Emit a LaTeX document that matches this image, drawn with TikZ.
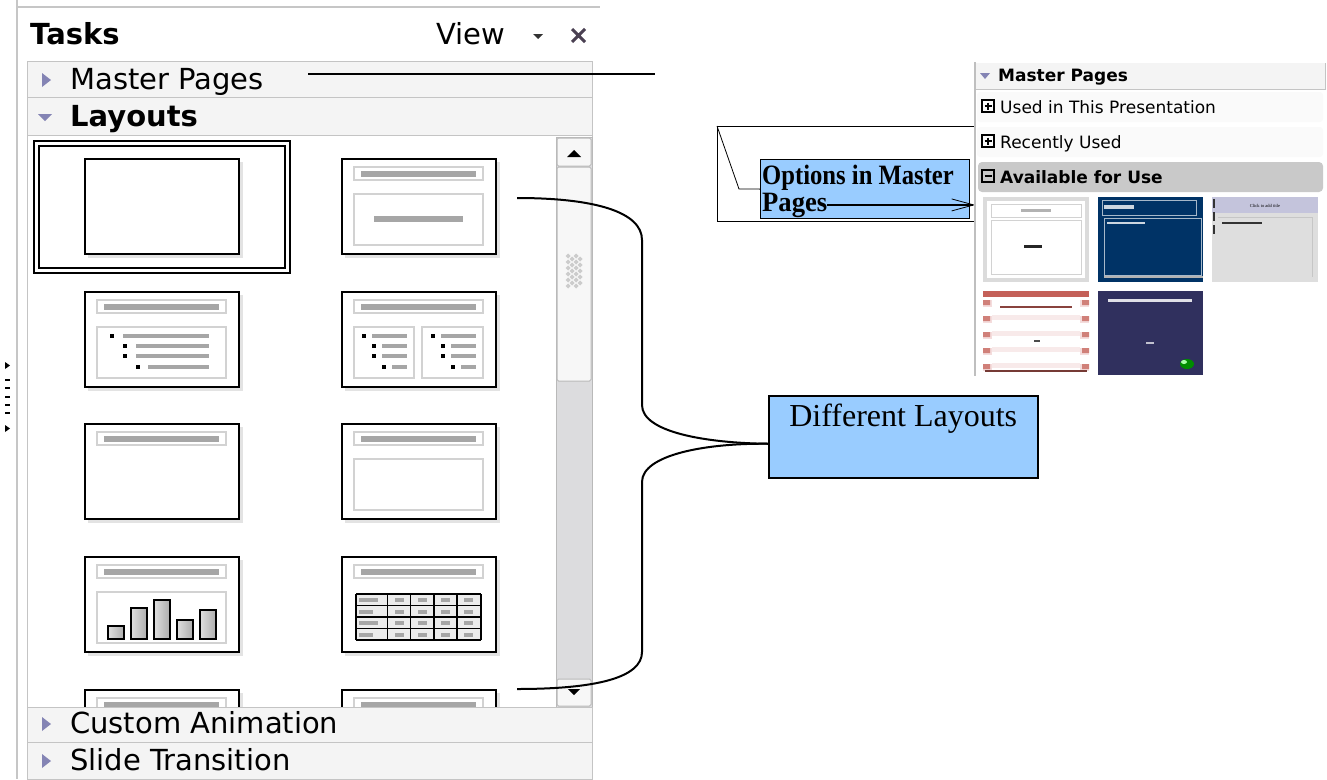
\documentclass[tikz,border=0pt]{standalone}
\usepackage{fontspec}
\setmainfont{DejaVu Sans}
\newfontfamily\serif{Liberation Serif}
\usetikzlibrary{arrows.meta}

\definecolor{triblue}{HTML}{8484B4}
\definecolor{rowgray}{HTML}{F4F4F4}
\definecolor{linegray}{HTML}{C4C4C4}
\definecolor{trough}{HTML}{DCDCDE}
\definecolor{callblue}{HTML}{99CCFF}
\definecolor{closex}{HTML}{4A4052}
\definecolor{navy}{HTML}{003366}
\definecolor{indigo}{HTML}{30305E}
\definecolor{lavender}{HTML}{C4C4DC}
\definecolor{rosered}{HTML}{C46058}
\definecolor{rosepale}{HTML}{F4DCDC}

\tikzset{
  frame/.style={draw=black, line width=1.8pt, fill=white},
  holder/.style={draw=gray!35, line width=1.2pt},
  bar/.style={fill=gray!70},
  rowbox/.style={draw=linegray, fill=rowgray, line width=1pt},
  tab/.style={font=\fontsize{29}{34}\selectfont, anchor=base west, inner sep=0pt},
  small/.style={font=\fontsize{17}{20}\selectfont, anchor=base west, inner sep=0pt},
  bluebox/.style={draw, fill=callblue, line width=1.5pt, inner sep=0pt},
  brace/.style={line width=2pt},
}

\newcommand{\slideframe}{%
  \fill[gray!22] (3,3) rectangle (158,99);
  \draw[frame] (0,0) rectangle (154,95);}
\newcommand{\slidetitle}{%
  \draw[holder] (12,8) rectangle (141,21);
  \fill[bar] (19,12) rectangle (134,18);}
\newcommand{\slidebody}{\draw[holder] (12,35) rectangle (141,86);}

\begin{document}
\begin{tikzpicture}[x=1pt, y=-1pt]
\useasboundingbox (0,0) rectangle (1327,779);

% window edge and dock grip
\draw[gray!45, line width=1.5pt] (17,0) -- (17,779);
\draw[gray!45, line width=1.2pt] (17,7) -- (600,7);
\fill (5,362) -- (10,365.5) -- (5,369) -- cycle;
\foreach \gy in {380,388,397,405,413} \fill (5,\gy-1.2) rectangle (10,\gy+1.2);
\fill (5,425) -- (10,428.5) -- (5,432) -- cycle;

% pane title
\node[tab] (tasks) at (30,44) {\bfseries Tasks};
\node[tab] (view) at (436,44) {View};
\fill[black!80] (533,34) -- (543,34) -- (538,39) -- cycle;
\draw[closex, line width=3pt] (572,29) -- (585,42) (585,29) -- (572,42);

% section headers
\draw[rowbox] (27,61) rectangle (592,97);
\draw[rowbox] (27,97) rectangle (592,135);
\draw[linegray, fill=white, line width=1pt] (27,135) rectangle (592,707);
\fill[triblue] (42,73) -- (51,80) -- (42,87) -- cycle;
\fill[triblue] (38,114) -- (52,114) -- (45,121) -- cycle;
\node[tab] (mptext) at (70,89) {Master Pages};
\node[tab] (laytext) at (70,126) {\bfseries Layouts};

% layouts: blank, selected
\draw[line width=1.5pt] (34,141) rectangle (290,273);
\draw[line width=1.5pt] (39,146) rectangle (285,268);
\begin{scope}[shift={(85,159)}]
  \slideframe
\end{scope}
% title, content
\begin{scope}[shift={(342,159)}]
  \slideframe \slidetitle \slidebody
  \fill[bar] (32,57) rectangle (121,63);
\end{scope}
% title, bullets
\begin{scope}[shift={(85,292)}]
  \slideframe \slidetitle \slidebody
  \foreach \bx/\by/\lx in {27/44/38, 40/54/51, 40/64/51, 53/75/63} {
    \fill (\bx-2,\by-2) rectangle (\bx+2,\by+2);
    \fill[bar] (\lx,\by-1.8) rectangle (124,\by+1.8);
  }
\end{scope}
% title, two columns
\begin{scope}[shift={(342,292)}]
  \slideframe \slidetitle
  \draw[holder] (12,35) rectangle (72,86);
  \draw[holder] (80,35) rectangle (141,86);
  \foreach \dx in {0,69} {
    \foreach \bx/\by/\lx in {22/44/30, 32/54/40, 32/64/40, 42/75/50} {
      \fill (\dx+\bx-2,\by-2) rectangle (\dx+\bx+2,\by+2);
      \fill[bar] (\dx+\lx,\by-1.8) rectangle (\dx+65,\by+1.8);
    }
  }
\end{scope}
% title only
\begin{scope}[shift={(85,424)}]
  \slideframe \slidetitle
\end{scope}
% title, empty content
\begin{scope}[shift={(342,424)}]
  \slideframe \slidetitle \slidebody
\end{scope}
% title, chart
\begin{scope}[shift={(85,557)}]
  \slideframe \slidetitle \slidebody
  \foreach \bx/\bt in {23/69, 46/51, 69/43, 92/63, 115/53}
    \draw[left color=gray!25, right color=gray!65, line width=1.3pt] (\bx,\bt) rectangle (\bx+16,82);
\end{scope}
% title, table
\begin{scope}[shift={(342,557)}]
  \slideframe \slidetitle
  \fill[gray!15] (14,37) rectangle (139,83);
  \foreach \ty/\tw in {0/19, 1/14, 2/19, 3/14} {
    \fill[bar] (17,{41+11.5*\ty}) rectangle ({17+\tw},{45+11.5*\ty});
    \foreach \tx in {53,76,99,122}
      \fill[bar] (\tx,{41+11.5*\ty}) rectangle ({\tx+9},{45+11.5*\ty});
  }
  \foreach \tx in {14,45.5,68.5,91.8,114.7,139}
    \draw[line width=1.6pt] (\tx,37) -- (\tx,83);
  \foreach \ty in {37,48.5,60,71.5,83}
    \draw[line width=1.6pt] (14,\ty) -- (139,\ty);
\end{scope}
% next row, partly hidden
\begin{scope}[shift={(85,690)}]
  \slideframe \slidetitle
\end{scope}
\begin{scope}[shift={(342,690)}]
  \slideframe \slidetitle
\end{scope}

% scrollbar
\draw[gray!55, fill=trough, line width=1pt] (556,137) rectangle (592,707);
\draw[gray!55, fill=gray!6, line width=1pt, rounded corners=1.5pt] (557,138) rectangle (591,166);
\fill (567,157) -- (581,157) -- (574,150) -- cycle;
\draw[gray!55, fill=gray!6, line width=1pt, rounded corners=1.5pt] (557,167) rectangle (591,381);
\foreach \gx in {568,576}
  \foreach \gy in {256,262,...,286}
    \fill[gray!40] (\gx,\gy-2.5) -- (\gx+2.5,\gy) -- (\gx,\gy+2.5) -- (\gx-2.5,\gy) -- cycle;
\foreach \gx in {572,580}
  \foreach \gy in {259,265,...,283}
    \fill[gray!40] (\gx,\gy-2.5) -- (\gx+2.5,\gy) -- (\gx,\gy+2.5) -- (\gx-2.5,\gy) -- cycle;
\draw[gray!55, fill=gray!6, line width=1pt, rounded corners=1.5pt] (557,679) rectangle (591,706);
\fill (568,689) -- (580,689) -- (574,695) -- cycle;

% collapsed sections below
\draw[rowbox] (27,707) rectangle (592,742);
\draw[rowbox] (27,742) rectangle (592,779);
\fill[triblue] (42,717) -- (51,724) -- (42,731) -- cycle;
\fill[triblue] (42,754) -- (51,761) -- (42,768) -- cycle;
\node[tab] (custtext) at (70,733) {Custom Animation};
\node[tab] (slidetext) at (70,770) {Slide Transition};

% master pages pointer
\coordinate (mpstart) at (308,74);
\coordinate (mpend) at (655,74);
\draw[line width=1.5pt] (mpstart) -- (mpend);

% callout for the master pages options
\node[draw, fill=white, line width=1.2pt, minimum width=257pt, minimum height=95pt,
      inner sep=0pt, anchor=north west] (callout) at (717,126) {};
\node[bluebox, line width=1.2pt, minimum width=209pt, minimum height=59pt, anchor=north west]
      (opt) at (760,159) {};
\draw[line width=0.8pt] (callout.north west) -- ++(22,63) -- (opt.west);
\node[font=\serif\bfseries\fontsize{28}{30}\selectfont, anchor=base west, inner sep=0pt]
      (optline1) at (762,184) {\scalebox{0.88}[1]{Options in Master}};
\node[font=\serif\bfseries\fontsize{28}{30}\selectfont, anchor=base west, inner sep=0pt]
      (optline2) at (762,211) {\scalebox{0.95}[1]{Pages}};
\draw[line width=1.8pt, -{Straight Barb[length=22pt, width=12pt, line width=0.8pt]}]
      (optline2.east) -- (callout.east |- optline2.east);

% master pages panel, expanded
\fill[rowgray] (976,63) rectangle (1325,89);
\draw[linegray, line width=1pt] (976,89) -- (1325,89) -- (1325,63);
\draw[gray!50, line width=1.2pt] (975,62) -- (975,376);
\fill[triblue] (980,73) -- (990,73) -- (985,79) -- cycle;
\node[small] (mphead) at (998,81) {\bfseries Master Pages};
\fill[gray!4, rounded corners=3pt] (977,92) rectangle (1323,122);
\fill[gray!4, rounded corners=3pt] (977,127) rectangle (1323,157);
\fill[gray!42, rounded corners=4pt] (978,162) rectangle (1323,192);
\foreach \iy in {100,135,170}
  \draw[line width=1.2pt] (982,\iy) rectangle (994,\iy+12) (984.5,\iy+6) -- (991.5,\iy+6);
\foreach \iy in {100,135}
  \draw[line width=1.2pt] (988,\iy+2.5) -- (988,\iy+9.5);
\node[small] (usedtext) at (1000,113) {Used in This Presentation};
\node[small] (recenttext) at (1000,148) {Recently Used};
\node[small] (availtext) at (1000,183) {\bfseries Available for Use};

% master page previews
\fill[gray!28] (983,197) rectangle (1089,282);
\fill[white] (987,201) rectangle (1085,278);
\draw[gray!35, line width=0.8pt] (991,204) rectangle (1081,217) (991,220) rectangle (1081,274);
\fill[gray!60] (1021,209) rectangle (1051,212);
\fill[black!85] (1024,245) rectangle (1042,248);

\fill[navy] (1098,197) rectangle (1203,282);
\draw[white!65!navy, line width=0.8pt] (1102,200) rectangle (1196,215) (1104,218) rectangle (1201,275);
\fill[white!80!navy] (1104,205) rectangle (1134,209);
\fill[white!80!navy] (1107,222) rectangle (1145,224);
\draw[gray!60, line width=1.5pt] (1104,277) -- (1203,277);

\fill[gray!26] (1212,197) rectangle (1318,282);
\fill[lavender] (1212,197) rectangle (1318,213);
\foreach \my in {199,212,225}
  \fill[black!80] (1213,\my) rectangle (1215,\my+9);
\draw[gray!45, line width=0.8pt] (1218,217) -- (1312,217) -- (1312,277);
\node[font=\serif\fontsize{4.5}{5}\selectfont, inner sep=0pt] (clicktitle) at (1265,206) {Click to add title};
\fill[black!80] (1222,222) rectangle (1262,224);

\fill[white] (983,291) rectangle (1089,375);
\fill[rosered] (983,291) rectangle (1089,297);
\foreach \sy in {300,316,332,348,364} {
  \fill[rosepale] (983,\sy) rectangle (1089,\sy+7);
  \fill[rosered!80] (983,\sy) rectangle (990,\sy+5) (1082,\sy) rectangle (1089,\sy+5);
}
\fill[white] (992,297) rectangle (1080,370);
\foreach \sy in {315,331,347,363} \fill[rosepale!60] (992,\sy) rectangle (1080,\sy+5);
\fill[rosered!70!black] (1000,306) rectangle (1072,308);
\fill[black!70] (1034,340) rectangle (1040,342);
\fill[rosered!60!black] (985,370) rectangle (1087,372);

\fill[indigo] (1098,291) rectangle (1203,375);
\fill[white!85!indigo] (1108,299) rectangle (1192,302);
\fill[white!70!indigo] (1146,342) rectangle (1154,343.5);
\fill[green!55!black] (1187,364) ellipse (7 and 5);
\fill[green!35!white] (1184,362) ellipse (3 and 2);

% brace to the layout list
\node[bluebox, minimum width=269pt, text height=31pt, text depth=51pt,
      font=\serif\fontsize{32}{38}\selectfont, anchor=north west] (difflay) at (768,395) {Different Layouts};
\coordinate (toptip) at (517,198);
\coordinate (bottip) at (517,689);
\draw[brace] (toptip) .. controls (595,198) and (642,212) .. (642,240) -- (642,405)
  .. controls (642,432) and (705,443) .. ([yshift=-7pt]difflay.west);
\draw[brace] ([yshift=-7pt]difflay.west) .. controls (705,443) and (642,455) .. (642,482) -- (642,652)
  .. controls (642,678) and (595,689) .. (bottip);
\end{tikzpicture}
\end{document}
